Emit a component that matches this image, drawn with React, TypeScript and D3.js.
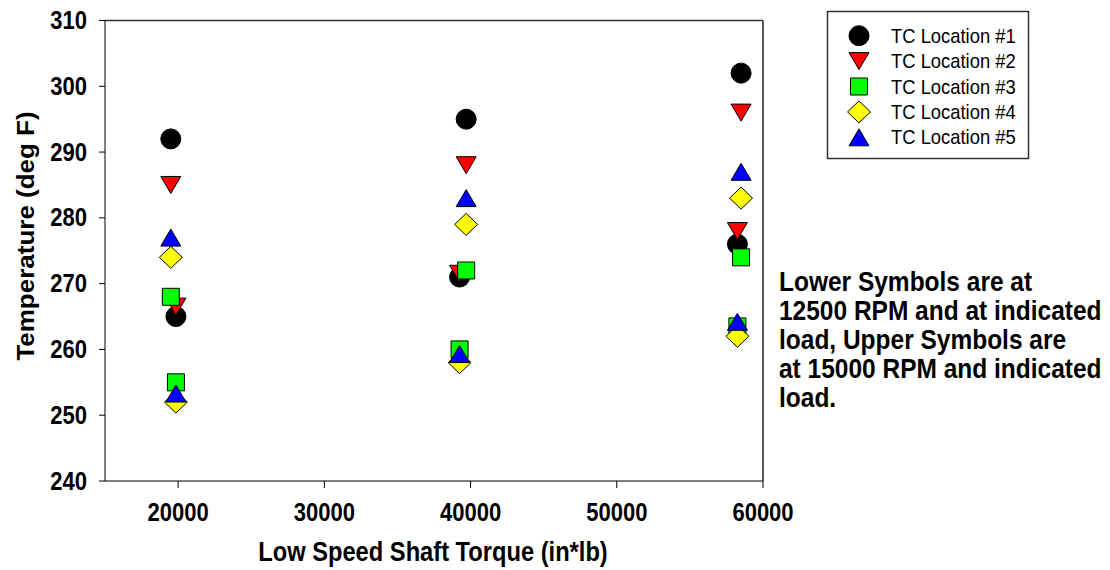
import React from "react";
import * as d3 from "d3";

const seriesNames = ["TC Location #1", "TC Location #2", "TC Location #3", "TC Location #4", "TC Location #5"];
const seriesShapes = ["circle", "triangleDown", "square", "diamond", "triangleUp"];
const seriesColors = ["#000000", "#ff0000", "#00ff00", "#ffff00", "#0000ff"];

// Upper symbols: 15000 RPM; lower symbols: 12500 RPM
const upperTorque = [19500, 39700, 58500];
const lowerTorque = [19850, 39250, 58250];

const upperTemps = [
  [292, 295, 302],
  [285, 288, 296],
  [268, 272, 274],
  [274, 279, 283],
  [277, 283, 287],
];
const lowerTemps = [
  [265, 271, 276],
  [266.5, 271.5, 278],
  [255, 260, 263.5],
  [252, 258, 262],
  [253.3, 259.3, 264.2],
];

const xTicks = [20000, 30000, 40000, 50000, 60000];
const yTicks = [240, 250, 260, 270, 280, 290, 300, 310];

const noteLines = [
  "Lower Symbols are at",
  "12500 RPM and at indicated",
  "load, Upper Symbols are",
  "at 15000 RPM and indicated",
  "load.",
];

const W = 1110;
const H = 570;
const left = 105;
const right = 763;
const top = 20.5;
const bottom = 481;
const SY = 1.13;
const FONT = "'Liberation Sans', Arial, Helvetica, sans-serif";

function shapePath(shape: string): string {
  switch (shape) {
    case "circle":
      return "M-10,0A10,10 0 1,0 10,0A10,10 0 1,0 -10,0Z";
    case "triangleDown":
      return "M-10,-8.5L10,-8.5L0,8.5Z";
    case "triangleUp":
      return "M-10,8.5L10,8.5L0,-8.5Z";
    case "square":
      return "M-8.5,-8.5L8.5,-8.5L8.5,8.5L-8.5,8.5Z";
    case "diamond":
      return "M0,-11L11.5,0L0,11L-11.5,0Z";
    default:
      return "";
  }
}

export default function App() {
  const x = d3.scaleLinear().domain([15000, 60000]).range([left, right]);
  const y = d3.scaleLinear().domain([240, 310]).range([bottom, top]);

  const points: { s: number; px: number; py: number }[] = [];
  seriesNames.forEach((_, s) => {
    upperTorque.forEach((t, i) => points.push({ s, px: x(t), py: y(upperTemps[s][i]) }));
    lowerTorque.forEach((t, i) => points.push({ s, px: x(t), py: y(lowerTemps[s][i]) }));
  });

  return (
    <svg width={W} height={H} style={{ position: "absolute", left: 0, top: 0, background: "#fff" }} fontFamily={FONT}>
      <rect x={0} y={0} width={W} height={H} fill="#fff" />
      {/* frame */}
      <line x1={left} x2={right} y1={top} y2={top} stroke="#333" strokeWidth={1.5} />
      <line x1={right} x2={right} y1={top} y2={bottom} stroke="#555" strokeWidth={2} />
      <line x1={left} x2={left} y1={top} y2={bottom} stroke="#000" strokeWidth={1} />
      <line x1={left} x2={right} y1={bottom} y2={bottom} stroke="#000" strokeWidth={1} />
      {/* y ticks */}
      {yTicks.map((t) => (
        <g key={"y" + t}>
          <line x1={left - 6} x2={left} y1={y(t)} y2={y(t)} stroke="#000" />
          <text
            transform={`translate(87,${y(t) + 8.5}) scale(1,${SY})`}
            textAnchor="end"
            fontSize={22}
            fontWeight="bold"
          >
            {t}
          </text>
        </g>
      ))}
      {/* x ticks */}
      {xTicks.map((t) => (
        <g key={"x" + t}>
          <line x1={x(t)} x2={x(t)} y1={bottom} y2={bottom + 7} stroke="#000" />
          <text
            transform={`translate(${x(t)},521) scale(1,${SY})`}
            textAnchor="middle"
            fontSize={22}
            fontWeight="bold"
          >
            {t}
          </text>
        </g>
      ))}
      <text
        transform={`translate(${(left + right) / 2 - 1},561) scale(1,${SY})`}
        textAnchor="middle"
        fontSize={23.7}
        fontWeight="bold"
      >
        Low Speed Shaft Torque (in*lb)
      </text>
      <text
        transform={`translate(34,236) scale(1,${SY}) rotate(-90)`}
        textAnchor="middle"
        fontSize={23}
        fontWeight="bold"
      >
        Temperature (deg F)
      </text>
      {/* points */}
      {points.map((p, i) => (
        <path
          key={i}
          d={shapePath(seriesShapes[p.s])}
          transform={`translate(${p.px},${p.py})`}
          fill={seriesColors[p.s]}
          stroke="#000"
          strokeWidth={1}
        />
      ))}
      {/* legend */}
      <rect x={827.5} y={11.5} width={201} height={147} fill="#fff" stroke="#333" strokeWidth={1.5} />
      {seriesNames.map((n, i) => (
        <g key={n} transform={`translate(0,${35.7 + i * 25.4})`}>
          <path d={shapePath(seriesShapes[i])} transform="translate(859,0)" fill={seriesColors[i]} stroke="#000" />
          <text transform={`translate(891,7) scale(1,${SY})`} fontSize={18.4}>
            {n}
          </text>
        </g>
      ))}
      {/* annotation */}
      {noteLines.map((l, i) => (
        <text key={i} transform={`translate(779,${291 + i * 29}) scale(1,${SY})`} fontSize={24.5} fontWeight="bold">
          {l}
        </text>
      ))}
    </svg>
  );
}
